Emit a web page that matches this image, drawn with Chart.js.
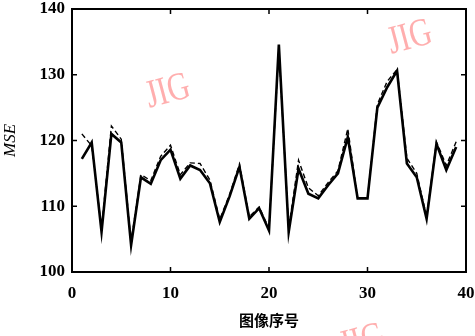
<!DOCTYPE html>
<html>
<head>
<meta charset="utf-8">
<script src="https://cdn.jsdelivr.net/npm/chart.js@4/dist/chart.umd.min.js"></script>
<style>
  html, body { margin: 0; padding: 0; background: #fff; }
  #wrap { width: 475px; height: 336px; }
</style>
</head>
<body>
<div id="wrap"><canvas id="mseChart" width="475" height="336"></canvas></div>
<script>
const imageIndex = [1,2,3,4,5,6,7,8,9,10,11,12,13,14,15,16,17,18,19,20,21,22,23,24,25,26,27,28,29,30,31,32,33,34,35,36,37,38,39];
const solidMSE = [117.2,119.7,106.1,121.0,119.7,104.1,114.4,113.4,117.0,118.6,114.2,116.2,115.5,113.5,107.6,111.5,116.0,108.1,109.7,106.3,134.6,106.1,115.7,111.9,111.2,113.2,115.0,120.5,111.2,111.2,125.0,128.1,130.6,116.5,114.4,108.1,119.5,115.5,119.0];
const dashedMSE = [121.0,119.2,106.6,122.2,120.2,104.6,114.8,113.9,117.6,119.3,114.8,116.6,116.5,114.0,108.0,111.8,116.4,108.4,109.9,106.6,134.0,106.6,117.0,112.8,111.6,113.6,115.4,121.8,111.2,111.2,125.5,129.0,130.8,117.3,115.0,108.4,119.8,116.2,119.8];
const xTicks = [0, 10, 20, 30, 40];
const yTicks = [100, 110, 120, 130, 140];

const toPoints = (ys) => ys.map((y, i) => ({ x: imageIndex[i], y: y }));

const serif = "'Liberation Serif', 'DejaVu Serif', serif";

// pink "JIG" marks and the inner tick marks / frame
const decorations = {
    id: "decorations",
    beforeDatasetsDraw(chart) {
        const c = chart.ctx;
        c.save();
        c.fillStyle = "rgba(255, 160, 160, 0.85)";
        c.font = "36px " + serif;
        [[168, 92], [410, 38], [362, 342]].forEach(([x, y]) => {
            c.save();
            c.translate(x, y);
            c.rotate(-0.26);
            c.scale(0.85, 1.1);
            c.textAlign = "center";
            c.textBaseline = "middle";
            c.fillText("JIG", 0, 0);
            c.restore();
        });
        c.restore();
    },
    afterDraw(chart) {
        const c = chart.ctx;
        const a = chart.chartArea;
        const xs = chart.scales.x, ys = chart.scales.y;
        c.save();
        c.strokeStyle = "#000";
        c.lineWidth = 2;
        c.strokeRect(a.left, a.top, a.right - a.left, a.bottom - a.top);
        c.lineWidth = 1.5;
        c.beginPath();
        xTicks.slice(1, -1).forEach(v => {
            const px = xs.getPixelForValue(v);
            c.moveTo(px, a.bottom); c.lineTo(px, a.bottom - 5);
            c.moveTo(px, a.top); c.lineTo(px, a.top + 5);
        });
        yTicks.slice(1, -1).forEach(v => {
            const py = ys.getPixelForValue(v);
            c.moveTo(a.left, py); c.lineTo(a.left + 5, py);
            c.moveTo(a.right, py); c.lineTo(a.right - 5, py);
        });
        c.stroke();
        c.restore();
    }
};

const ctx = document.getElementById("mseChart").getContext("2d");
new Chart(ctx, {
    type: "line",
    data: {
        datasets: [
            {
                label: "dashed",
                data: toPoints(dashedMSE),
                borderColor: "#000",
                borderWidth: 1.4,
                borderDash: [5, 3],
                pointRadius: 0,
                tension: 0,
                fill: false
            },
            {
                label: "solid",
                data: toPoints(solidMSE),
                borderColor: "#000",
                borderWidth: 2.6,
                pointRadius: 0,
                tension: 0,
                fill: false
            }
        ]
    },
    options: {
        responsive: false,
        animation: false,
        layout: { padding: { top: 9, right: 9, left: 0, bottom: 0 } },
        plugins: {
            legend: { display: false },
            tooltip: { enabled: false }
        },
        scales: {
            x: {
                type: "linear",
                min: 0,
                max: 40,
                afterBuildTicks: (s) => { s.ticks = xTicks.map(v => ({ value: v })); },
                afterFit: (s) => { s.height = 64; s.paddingLeft = 0; s.paddingRight = 0; },
                grid: { display: false, drawTicks: false },
                border: { display: false },
                ticks: {
                    color: "#000",
                    padding: 11,
                    maxRotation: 0,
                    font: { family: serif, size: 17, weight: "bold" }
                },
                title: {
                    display: true,
                    text: "图像序号",
                    color: "#000",
                    padding: { top: 2, bottom: 7 },
                    font: { family: "'Noto Sans CJK SC', sans-serif", size: 15, weight: "bold" }
                }
            },
            y: {
                min: 100,
                max: 140,
                afterBuildTicks: (s) => { s.ticks = yTicks.map(v => ({ value: v })); },
                afterFit: (s) => { s.width = 72; s.paddingTop = 0; s.paddingBottom = 0; },
                grid: { display: false, drawTicks: false },
                border: { display: false },
                ticks: {
                    color: "#000",
                    padding: 7,
                    font: { family: serif, size: 17, weight: "bold" }
                },
                title: {
                    display: true,
                    text: "MSE",
                    color: "#000",
                    padding: { top: 0, bottom: 4 },
                    font: { family: serif, size: 17, style: "italic" }
                }
            }
        }
    },
    plugins: [decorations]
});
</script>
</body>
</html>
